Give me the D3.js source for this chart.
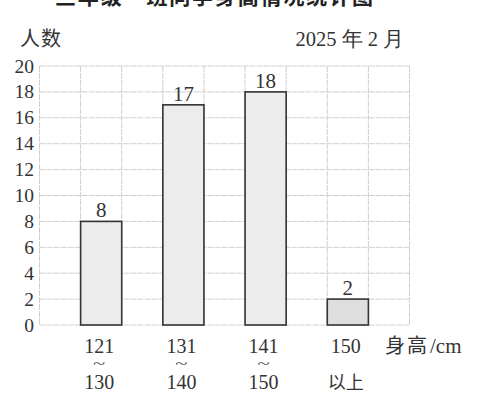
<!DOCTYPE html>
<html>
<head>
<meta charset="utf-8">
<script src="https://cdn.jsdelivr.net/npm/d3@7"></script>
<style>
  body { margin: 0; background: #fff; }
  svg { display: block; }
</style>
</head>
<body>
<script>
// data
var groupTop = ["121", "131", "141", "150"];
var groupBottom = ["130", "140", "150", "以上"];
var counts = [8, 17, 18, 2];
var yTicks = [0, 2, 4, 6, 8, 10, 12, 14, 16, 18, 20];

var W = 487, H = 400;
var plotLeft = 39.5, plotRight = 409.5, plotTop = 66, plotBottom = 325;
var serif = "'Liberation Serif','DejaVu Serif',serif";
var cjk = "'Noto Sans CJK SC','Noto Sans CJK JP',sans-serif";

var svg = d3.select("body").append("svg")
  .attr("width", W).attr("height", H);

var x = d3.scaleBand()
  .domain(groupTop)
  .range([plotLeft, plotRight])
  .paddingInner(0.5)
  .paddingOuter(0.5);

var y = d3.scaleLinear().domain([0, 20]).range([plotBottom, plotTop]);

// grid - horizontal
svg.append("g").selectAll("line")
  .data(yTicks).enter().append("line")
  .attr("x1", plotLeft).attr("x2", plotRight)
  .attr("y1", function(d) { return y(d); })
  .attr("y2", function(d) { return y(d); })
  .style("stroke", "#cfcfcf")
  .style("stroke-width", 1)
  .style("stroke-dasharray", "6,1");

// grid - vertical, every half step
var half = x.step() / 2;
var cols = d3.range(0, Math.round((plotRight - plotLeft) / half) + 1);
svg.append("g").selectAll("line")
  .data(cols).enter().append("line")
  .attr("x1", function(k) { return plotLeft + k * half; })
  .attr("x2", function(k) { return plotLeft + k * half; })
  .attr("y1", plotTop).attr("y2", plotBottom)
  .style("stroke", "#cfcfcf")
  .style("stroke-width", 1)
  .style("stroke-dasharray", "6,1");

// y tick labels
svg.append("g").selectAll("text")
  .data(yTicks).enter().append("text")
  .attr("x", 34)
  .attr("y", function(d) { return y(d) + 6.5; })
  .attr("text-anchor", "end")
  .text(function(d) { return d; })
  .attr("font-family", serif)
  .attr("font-size", "19.5px")
  .attr("fill", "#333");

// bars
svg.append("g").selectAll("rect")
  .data(counts).enter().append("rect")
  .attr("x", function(d, i) { return x(groupTop[i]); })
  .attr("y", function(d) { return y(d); })
  .attr("width", x.bandwidth())
  .attr("height", function(d) { return y(0) - y(d); })
  .style("fill", function(d, i) { return i == 3 ? "#dedede" : "#ececec"; })
  .style("stroke", "#333")
  .style("stroke-width", 1.6);

// value labels
svg.append("g").selectAll("text")
  .data(counts).enter().append("text")
  .attr("x", function(d, i) { return x(groupTop[i]) + x.bandwidth() / 2; })
  .attr("y", function(d) { return y(d) - 4; })
  .attr("text-anchor", "middle")
  .text(function(d) { return d; })
  .attr("font-family", serif)
  .attr("font-size", "21px")
  .attr("fill", "#333");

// category labels
var cx = function(i) { return x(groupTop[i]) + x.bandwidth() / 2 - 2; };
svg.append("g").selectAll("text")
  .data(groupTop).enter().append("text")
  .attr("x", function(d, i) { return cx(i); })
  .attr("y", 353)
  .attr("text-anchor", "middle")
  .text(function(d) { return d; })
  .attr("font-family", serif)
  .attr("font-size", "20px")
  .attr("fill", "#333");

svg.append("g").selectAll("text")
  .data(groupBottom).enter().append("text")
  .attr("x", function(d, i) { return cx(i); })
  .attr("y", 389)
  .attr("text-anchor", "middle")
  .text(function(d) { return d; })
  .attr("font-family", function(d, i) { return i == 3 ? cjk : serif; })
  .attr("font-size", function(d, i) { return i == 3 ? "18px" : "20px"; })
  .attr("fill", "#333");

// wavy "~" between top and bottom numbers
svg.append("g").selectAll("text")
  .data(groupTop.slice(0, 3)).enter().append("text")
  .attr("x", function(d, i) { return cx(i); })
  .attr("y", 369)
  .attr("text-anchor", "middle")
  .text("~")
  .attr("font-family", serif)
  .attr("font-size", "15px")
  .attr("transform", function(d, i) { return "translate(" + cx(i) + ",0) scale(1.5,1) translate(" + (-cx(i)) + ",0)"; })
  .attr("fill", "#444");

// axis titles
svg.append("text")
  .attr("x", 20).attr("y", 46)
  .text("人数")
  .attr("font-family", cjk)
  .attr("font-size", "20px")
  .attr("letter-spacing", "1px")
  .attr("fill", "#333");

svg.append("text")
  .attr("x", 404).attr("y", 46)
  .attr("text-anchor", "end")
  .text("2025 年 2 月")
  .attr("font-family", serif)
  .attr("font-size", "20.5px")
  .attr("fill", "#333");

var unit = svg.append("text")
  .attr("x", 385).attr("y", 353)
  .attr("font-size", "20px")
  .attr("fill", "#333");
unit.append("tspan").text("身高").attr("font-family", cjk).attr("letter-spacing", "2px");
unit.append("tspan").text("/cm").attr("font-family", serif).attr("font-size", "21px").attr("dx", 1);

// title, mostly cut off at the top of the picture
svg.append("text")
  .attr("x", 55).attr("y", 4)
  .text("三年级一班同学身高情况统计图")
  .attr("textLength", 318)
  .attr("font-family", cjk)
  .attr("font-weight", "bold")
  .attr("font-size", "21px")
  .attr("fill", "#222");
</script>
</body>
</html>
